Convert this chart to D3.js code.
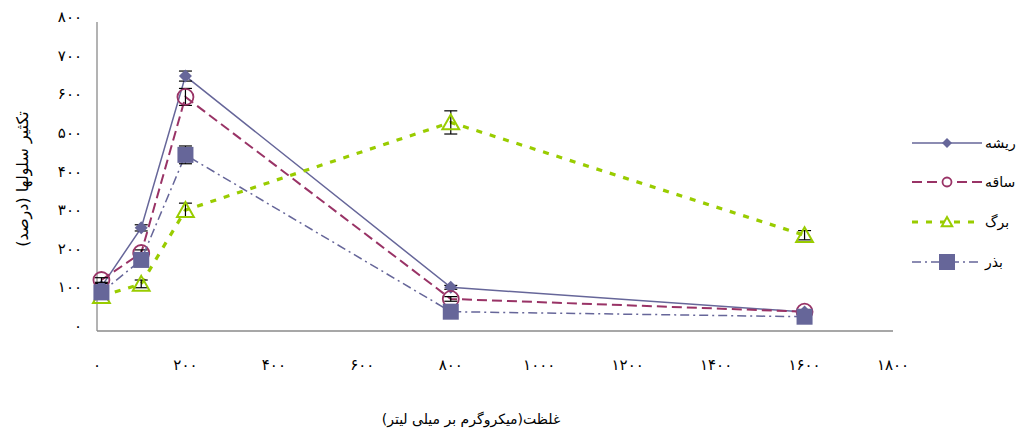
<!DOCTYPE html>
<meta charset="utf-8">
<style>
    body {
        margin: 0;
        background: #fff;
    }

    text {
        font-family: "DejaVu Sans", sans-serif;
        fill: #000;
    }
</style>
<svg width="1023" height="432"></svg>
<script src="https://d3js.org/d3.v7.min.js"></script>
<script>
    // concentrations (x) and series values
    var conc = [10, 100, 200, 800, 1600];

    var root = [115, 267, 660, 113, 49];
    var rootErr = [8, 8, 13, 5, 3];

    var stem = [132, 202, 606, 83, 50];
    var stemErr = [6, 8, 22, 6, 3];

    var leaf = [90, 122, 313, 540, 248];
    var leafErr = [8, 10, 18, 30, 12];

    var seed = [100, 184, 456, 50, 37];
    var seedErr = [8, 8, 23, 5, 3];

    var seriesNames = ["ریشه", "ساقه", "برگ", "بذر"];

    var xTicks = [0, 200, 400, 600, 800, 1000, 1200, 1400, 1600, 1800];
    var yTicks = [0, 100, 200, 300, 400, 500, 600, 700, 800];

    var xTitle = "غلظت(میکروگرم بر میلی لیتر)";
    var yTitle = "تکثیر سلولها (درصد)";

    var svg = d3.select("svg");

    var x = d3.scaleLinear().domain([0, 1800]).range([97, 893]);
    var y = d3.scaleLinear().domain([0, 800]).range([331, 22]);

    // persian digits
    function fa(n) {
        return String(n).replace(/\d/g, function (c) {
            return "۰۱۲۳۴۵۶۷۸۹"[+c];
        });
    }

    var series = [
        { name: seriesNames[0], values: root, err: rootErr, color: "#666699", width: 1.5, dash: null, marker: "diamond" },
        { name: seriesNames[1], values: stem, err: stemErr, color: "#993366", width: 2, dash: "10,5", marker: "circle" },
        { name: seriesNames[2], values: leaf, err: leafErr, color: "#99cc00", width: 3.2, dash: "6,8", marker: "triangle" },
        { name: seriesNames[3], values: seed, err: seedErr, color: "#666699", width: 1.5, dash: "9,4,2,4", marker: "square" }
    ];

    // axes lines
    svg.append("line")
        .attr("x1", x(0)).attr("x2", x(0))
        .attr("y1", y(0)).attr("y2", y(800))
        .attr("stroke", "#8a8a8a").attr("stroke-width", 1.3);
    svg.append("line")
        .attr("x1", x(0)).attr("x2", x(1800))
        .attr("y1", y(0)).attr("y2", y(0))
        .attr("stroke", "#8a8a8a").attr("stroke-width", 1.3);

    svg.append("g").selectAll("text")
        .data(yTicks)
        .enter().append("text")
        .attr("x", 82)
        .attr("y", function (d) { return y(d) - 0; })
        .attr("text-anchor", "end")
        .style("font-size", "15px")
        .text(function (d) { return fa(d); });

    svg.append("g").selectAll("text")
        .data(xTicks)
        .enter().append("text")
        .attr("x", function (d) { return x(d); })
        .attr("y", 370)
        .attr("text-anchor", "middle")
        .style("font-size", "15px")
        .text(function (d) { return fa(d); });

    svg.append("text")
        .attr("transform", "translate(28,179) rotate(-90)")
        .attr("text-anchor", "middle")
        .attr("direction", "rtl")
        .style("font-size", "16px")
        .text(yTitle);

    svg.append("text")
        .attr("x", 471)
        .attr("y", 424)
        .attr("text-anchor", "middle")
        .attr("direction", "rtl")
        .style("font-size", "14px")
        .text(xTitle);

    var line = d3.line()
        .x(function (d, i) { return x(conc[i]); })
        .y(function (d) { return y(d); });

    function marker(g, type, color, big) {
        if (type == "diamond") {
            var r = big ? 6.5 : 5;
            g.append("path")
                .attr("d", "M0," + (-r) + "L" + r + ",0L0," + r + "L" + (-r) + ",0Z")
                .attr("fill", color);
        } else if (type == "circle") {
            g.append("circle")
                .attr("r", big ? 8 : 4.5)
                .attr("fill", big ? "none" : "#fff")
                .attr("stroke", color)
                .attr("stroke-width", 1.8);
        } else if (type == "triangle") {
            var h = big ? 8 : 5;
            g.append("path")
                .attr("d", "M0," + (-h) + "L" + (h * 1.05) + "," + (h * 0.85) + "L" + (-h * 1.05) + "," + (h * 0.85) + "Z")
                .attr("fill", big ? "none" : "#fff")
                .attr("stroke", color)
                .attr("stroke-width", 2);
        } else {
            g.append("rect")
                .attr("x", -8).attr("y", -8)
                .attr("width", 16).attr("height", 16)
                .attr("fill", color);
        }
    }

    series.forEach(function (s) {
        var g = svg.append("g");

        g.append("path")
            .attr("d", line(s.values))
            .attr("fill", "none")
            .attr("stroke", s.color)
            .attr("stroke-width", s.width)
            .attr("stroke-dasharray", s.dash);

        // error bars
        s.values.forEach(function (v, i) {
            var cx = x(conc[i]);
            var eb = g.append("g").attr("stroke", "#000").attr("stroke-width", 1.2);
            eb.append("line").attr("x1", cx).attr("x2", cx)
                .attr("y1", y(v - s.err[i])).attr("y2", y(v + s.err[i]));
            [v - s.err[i], v + s.err[i]].forEach(function (e) {
                eb.append("line").attr("x1", cx - 6.5).attr("x2", cx + 6.5)
                    .attr("y1", y(e)).attr("y2", y(e));
            });
        });

        s.values.forEach(function (v, i) {
            var m = g.append("g")
                .attr("transform", "translate(" + x(conc[i]) + "," + y(v) + ")");
            marker(m, s.marker, s.color, true);
        });
    });

    // legend
    var legendY = [143, 182, 222, 262];
    series.forEach(function (s, i) {
        var lg = svg.append("g").attr("transform", "translate(0," + legendY[i] + ")");
        lg.append("line")
            .attr("x1", 912).attr("x2", 982)
            .attr("stroke", s.color)
            .attr("stroke-width", s.width)
            .attr("stroke-dasharray", s.dash);
        var m = lg.append("g").attr("transform", "translate(947,0)");
        marker(m, s.marker, s.color, false);
        lg.append("text")
            .attr("x", 985)
            .attr("y", 5)
            .style("font-size", "14px")
            .text(s.name);
    });
</script>
